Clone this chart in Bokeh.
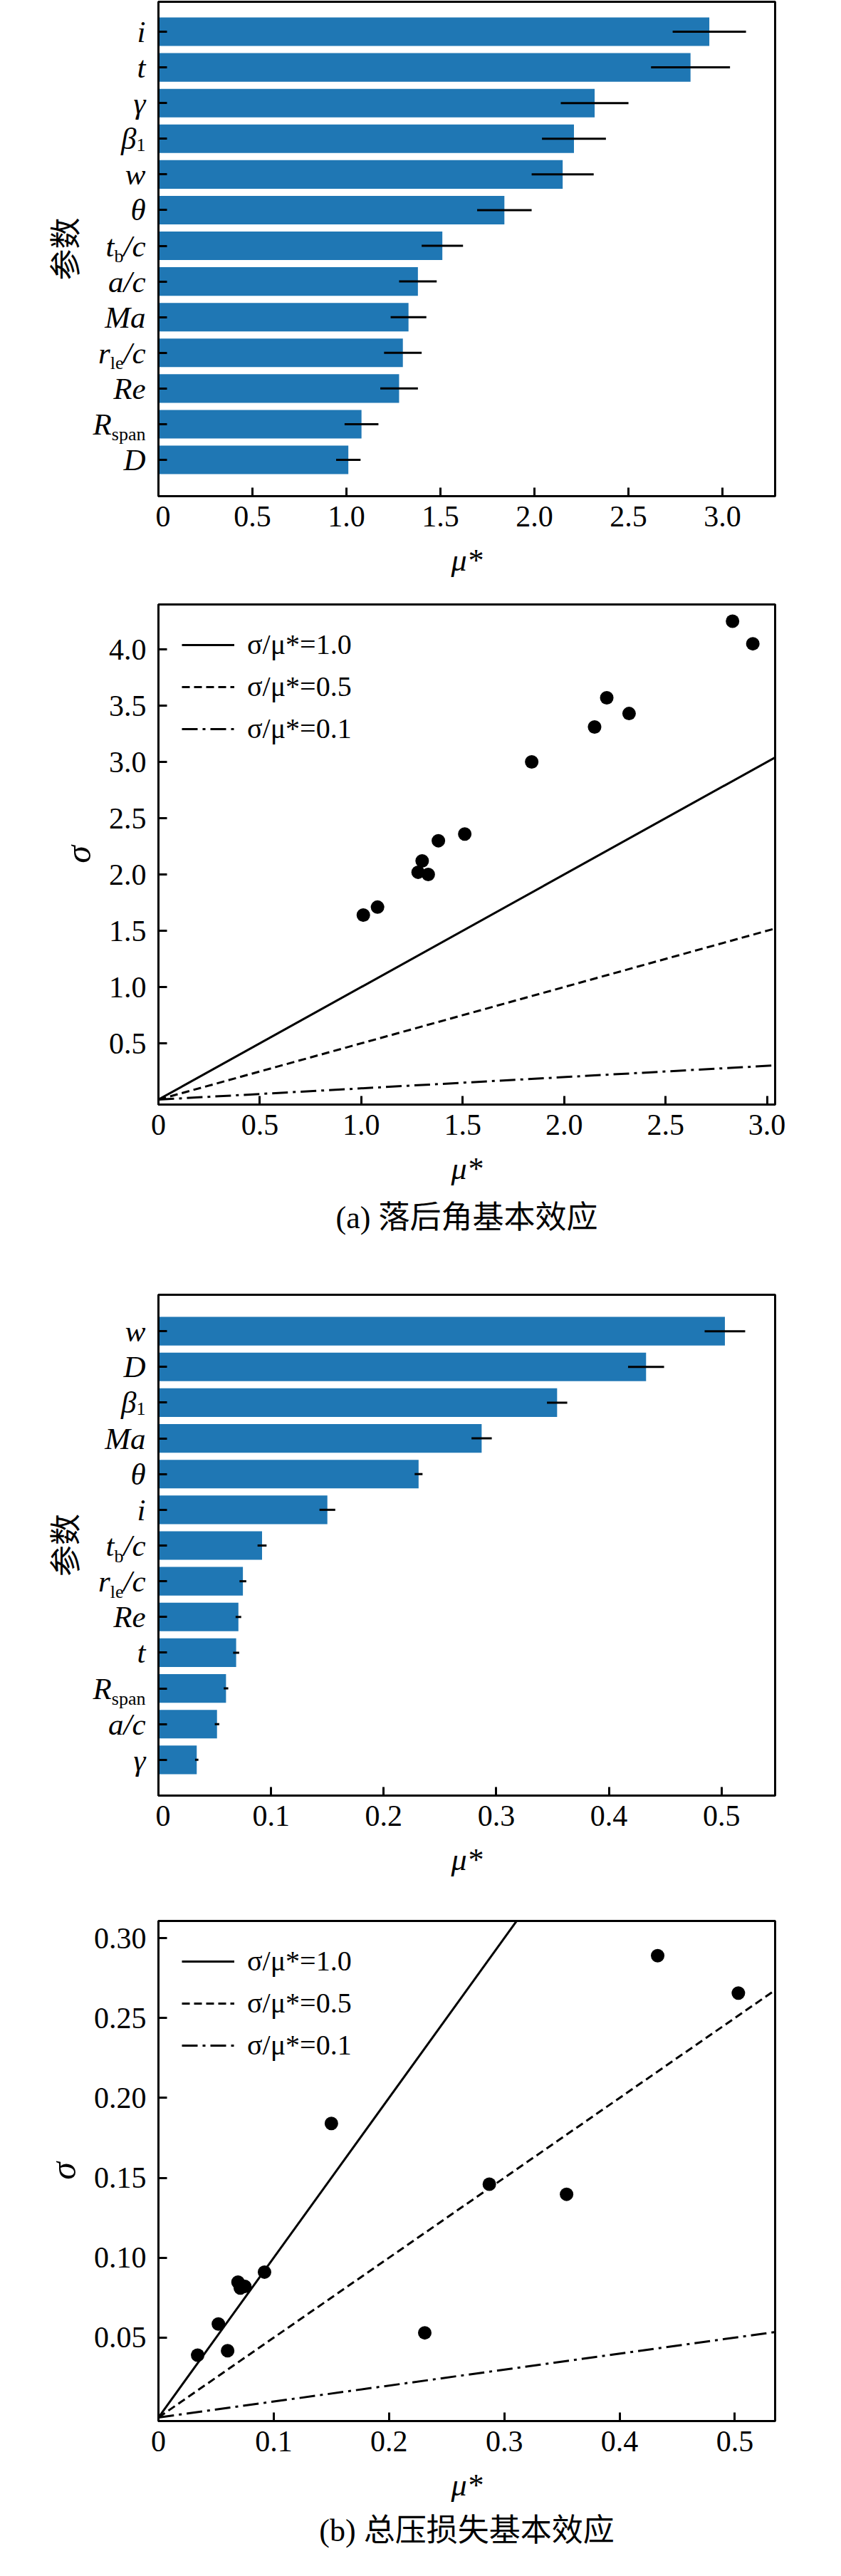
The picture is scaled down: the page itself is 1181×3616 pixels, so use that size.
from bokeh.plotting import figure
from bokeh.models import (Range1d, FixedTicker, CustomJSTickFormatter, Title, Legend,
                          ColumnDataSource)
from bokeh.layouts import column, row
from bokeh.embed import file_html
from bokeh.resources import INLINE
from bokeh.core.properties import value

# ---------------- data: (a) deviation angle ----------------
params_a = ["i", "t", "γ", "β1", "w", "θ", "tb/c", "a/c", "Ma", "rle/c", "Re", "Rspan", "D"]
mu_a = [2.93, 2.83, 2.32, 2.21, 2.15, 1.84, 1.51, 1.38, 1.33, 1.30, 1.28, 1.08, 1.01]
err_a = [0.195, 0.21, 0.18, 0.17, 0.165, 0.145, 0.11, 0.10, 0.095, 0.10, 0.10, 0.09, 0.065]
sigma_a = [4.05, 4.25, 3.43, 3.57, 3.31, 3.00, 2.36, 2.30, 2.00, 2.12, 2.02, 1.71, 1.64]

# ---------------- data: (b) total pressure loss ----------------
params_b = ["w", "D", "β1", "Ma", "θ", "i", "tb/c", "rle/c", "Re", "t", "Rspan", "a/c", "γ"]
mu_b = [0.503, 0.433, 0.354, 0.287, 0.231, 0.150, 0.092, 0.075, 0.071, 0.069, 0.060, 0.052, 0.034]
err_b = [0.018, 0.016, 0.009, 0.009, 0.0035, 0.007, 0.004, 0.003, 0.0025, 0.0027, 0.002, 0.002, 0.0015]
sigma_b = [0.2656, 0.289, 0.1397, 0.146, 0.053, 0.184, 0.091, 0.082, 0.081, 0.0847, 0.0418, 0.0585, 0.039]

# reference lines sigma/mu* = k
ratios = [1.0, 0.5, 0.1]
ratio_labels = ["σ/μ*=1.0", "σ/μ*=0.5", "σ/μ*=0.1"]
ratio_dash = ["solid", "11 6", "22 7 4 7"]

# tick positions
ticks_a_bar = [0, 0.5, 1.0, 1.5, 2.0, 2.5, 3.0]
ticks_a_sc_x = [0, 0.5, 1.0, 1.5, 2.0, 2.5, 3.0]
ticks_a_sc_y = [0.5, 1.0, 1.5, 2.0, 2.5, 3.0, 3.5, 4.0]
ticks_b_x = [0, 0.1, 0.2, 0.3, 0.4, 0.5]
ticks_b_sc_y = [0.05, 0.10, 0.15, 0.20, 0.25, 0.30]

caption_a = "(a) 落后角基本效应"
caption_b = "(b) 总压损失基本效应"
y_title_bar = "参数"

# label pieces: (text, kind) kind "it" = italic main, "sub" = upright subscript
LABEL_PIECES = {
    "i": [("i", "it")], "t": [("t", "it")], "γ": [("γ", "it")],
    "β1": [("β", "it"), ("1", "sub")], "w": [("w", "it")], "θ": [("θ", "it")],
    "tb/c": [("t", "it"), ("b", "sub"), ("/c", "it")], "a/c": [("a/c", "it")],
    "Ma": [("Ma", "it")], "rle/c": [("r", "it"), ("le", "sub"), ("/c", "it")],
    "Re": [("Re", "it")], "Rspan": [("R", "it"), ("span", "sub")], "D": [("D", "it")],
}
W_IT = {"i": 0.278, "t": 0.278, "γ": 0.44, "β": 0.5, "w": 0.667, "θ": 0.5, "/": 0.278,
        "c": 0.444, "a": 0.5, "M": 0.833, "r": 0.389, "R": 0.611, "e": 0.444, "D": 0.722}
W_UP = {"1": 0.5, "b": 0.5, "l": 0.278, "e": 0.444, "s": 0.389, "p": 0.5, "a": 0.444, "n": 0.5}

SERIF = "Liberation Serif"
CJK_SERIF = "Liberation Serif, Noto Sans CJK SC"
CJK = "Noto Sans CJK SC"
BLUE = "#1f77b4"
MAIN_PX = 43
SUB_PX = 26
LABEL_GAP = 14
FRAME_W = 866

FMT0 = CustomJSTickFormatter(code="return Math.abs(tick) < 1e-9 ? '0' : tick.toFixed(1);")
FMT2 = CustomJSTickFormatter(code="return tick.toFixed(2);")
FMT1 = CustomJSTickFormatter(code="return tick.toFixed(1);")


def empty_fmt():
    return CustomJSTickFormatter(code="return '';")


def base_fig(x_end, y_range, frame_h, b_top, b_bottom, b_left):
    p = figure(frame_width=FRAME_W, frame_height=frame_h,
               x_range=Range1d(0, x_end), y_range=y_range,
               min_border_left=b_left, min_border_right=77,
               min_border_top=b_top, min_border_bottom=b_bottom,
               output_backend="svg", toolbar_location=None,
               background_fill_color="white", border_fill_color="white")
    p.grid.visible = False
    p.outline_line_color = "black"
    p.outline_line_width = 3
    p.outline_line_alpha = 1.0
    for ax in (p.xaxis[0], p.yaxis[0]):
        ax.axis_line_width = 3
        ax.axis_line_color = "black"
        ax.major_tick_in = 12
        ax.major_tick_out = 0
        ax.major_tick_line_width = 3
        ax.major_tick_line_color = "black"
        ax.minor_tick_line_color = None
        ax.major_label_text_font = SERIF
        ax.major_label_text_font_size = "42px"
        ax.major_label_text_color = "black"
        ax.axis_label_text_font = SERIF
        ax.axis_label_text_font_style = "italic"
        ax.axis_label_text_font_size = "44px"
        ax.axis_label_text_color = "black"
    p.xaxis.major_label_standoff = 14
    p.xaxis.axis_label_standoff = 20
    p.xaxis.axis_label = "μ*"
    return p


def label_fig(names, ys, y_range, frame_h, b_top):
    # narrow companion figure holding the category labels and the y title
    lf = figure(frame_width=98, frame_height=frame_h, x_range=Range1d(0, 1), y_range=y_range,
                min_border_left=120, min_border_right=0, min_border_top=b_top,
                min_border_bottom=0, output_backend="svg", toolbar_location=None,
                background_fill_color="white", border_fill_color="white")
    lf.grid.visible = False
    lf.outline_line_color = None
    lf.xaxis.visible = False
    ax = lf.yaxis[0]
    ax.axis_line_color = None
    ax.major_tick_line_color = None
    ax.minor_tick_line_color = None
    ax.major_tick_in = 0
    ax.major_tick_out = 0
    ax.major_label_standoff = 0
    ax.ticker = FixedTicker(ticks=[])
    ax.formatter = empty_fmt()
    ax.axis_label = y_title_bar
    ax.axis_label_text_font = CJK
    ax.axis_label_text_font_style = "normal"
    ax.axis_label_text_font_size = "44px"
    ax.axis_label_text_color = "black"
    ax.axis_label_standoff = 0

    main = dict(x=[], y=[], text=[], xoff=[])
    sub = dict(x=[], y=[], text=[], xoff=[])
    x_right = lf.x_range.end
    for name, y in zip(names, ys):
        cur = -LABEL_GAP
        for txt, kind in reversed(LABEL_PIECES[name]):
            tgt = main if kind == "it" else sub
            tgt["x"].append(x_right)
            tgt["y"].append(y)
            tgt["text"].append(txt)
            tgt["xoff"].append(cur)
            size = MAIN_PX if kind == "it" else SUB_PX
            table = W_IT if kind == "it" else W_UP
            cur -= sum(table.get(ch, 0.5) for ch in txt) * size
    lf.text(x="x", y="y", text="text", x_offset="xoff", source=ColumnDataSource(main),
            text_font=value(SERIF), text_font_style="italic",
            text_font_size=f"{MAIN_PX}px", text_align="right",
            text_baseline="middle", text_color="black")
    lf.text(x="x", y="y", text="text", x_offset="xoff", source=ColumnDataSource(sub),
            text_font=value(SERIF), text_font_style="normal",
            text_font_size=f"{SUB_PX}px", text_align="right",
            text_baseline="top", text_color="black")
    return lf


def bar_row(names, mu, err, x_end, y_start, y_end, frame_h, b_top, b_bottom, xticks, fmt):
    n = len(names)
    ys = list(range(n - 1, -1, -1))
    yr = Range1d(y_start, y_end)
    p = base_fig(x_end, yr, frame_h, b_top, b_bottom, 4)
    src = ColumnDataSource(dict(y=ys, mu=mu,
                                lo=[m - e for m, e in zip(mu, err)],
                                hi=[m + e for m, e in zip(mu, err)]))
    p.hbar(y="y", left=0, right="mu", height=0.8, source=src,
           fill_color=BLUE, line_color=None)
    p.segment(x0="lo", y0="y", x1="hi", y1="y", source=src,
              line_color="black", line_width=3)
    p.xaxis.ticker = FixedTicker(ticks=xticks)
    p.xaxis.formatter = fmt
    p.yaxis.ticker = FixedTicker(ticks=ys)
    p.yaxis.formatter = empty_fmt()
    p.yaxis.major_label_standoff = 0
    lf = label_fig(names, ys, yr, frame_h, b_top)
    return row(lf, p, spacing=0)


def scatter_fig(mu, sigma, x_end, y_start, y_end, frame_h, b_top, b_bottom,
                xticks, yticks, xfmt, yfmt, caption, cap_standoff):
    p = base_fig(x_end, Range1d(y_start, y_end), frame_h, b_top, b_bottom, 222)
    items = []
    for k, lab, dash in zip(ratios, ratio_labels, ratio_dash):
        xs = [0, x_end * 1.02]
        r = p.line(x=xs, y=[k * v for v in xs], line_color="black", line_width=3,
                   line_dash=dash)
        items.append((lab, [r]))
    p.scatter(x=mu, y=sigma, size=19, fill_color="black", line_color=None)
    leg = Legend(items=items, location="top_left", margin=0, padding=33, spacing=12,
                 glyph_width=74, label_standoff=18,
                 label_text_font=SERIF, label_text_font_size="40px",
                 label_text_color="black",
                 border_line_alpha=0, background_fill_alpha=0)
    p.add_layout(leg)
    p.xaxis.ticker = FixedTicker(ticks=xticks)
    p.xaxis.formatter = xfmt
    p.yaxis.ticker = FixedTicker(ticks=yticks)
    p.yaxis.formatter = yfmt
    p.yaxis.major_label_standoff = 17
    p.yaxis.axis_label = "σ"
    p.yaxis.axis_label_text_font_size = "50px"
    p.yaxis.axis_label_standoff = 12
    p.add_layout(Title(text=caption, align="center", text_font=CJK_SERIF,
                       text_font_size="44px", text_font_style="normal",
                       text_color="black", standoff=cap_standoff), "below")
    return p


r1 = bar_row(params_a, mu_a, err_a, 3.280, -1.018, 12.839, 694, 2, 132, ticks_a_bar, FMT0)
p2 = scatter_fig(mu_a, sigma_a, 3.040, -0.044, 4.399, 702, 20, 212,
                 ticks_a_sc_x, ticks_a_sc_y, FMT0, FMT1, caption_a, 30)
r3 = bar_row(params_b, mu_b, err_b, 0.5476, -1.0, 13.02, 703, 55, 132, ticks_b_x, FMT0)
p4 = scatter_fig(mu_b, sigma_b, 0.5349, -0.0022, 0.3107, 702, 44, 199,
                 ticks_b_x, ticks_b_sc_y, FMT0, FMT2, caption_b, 20)

layout = column(r1, p2, r3, p4, spacing=0)
open("out.html", "w").write(file_html(layout, INLINE))
